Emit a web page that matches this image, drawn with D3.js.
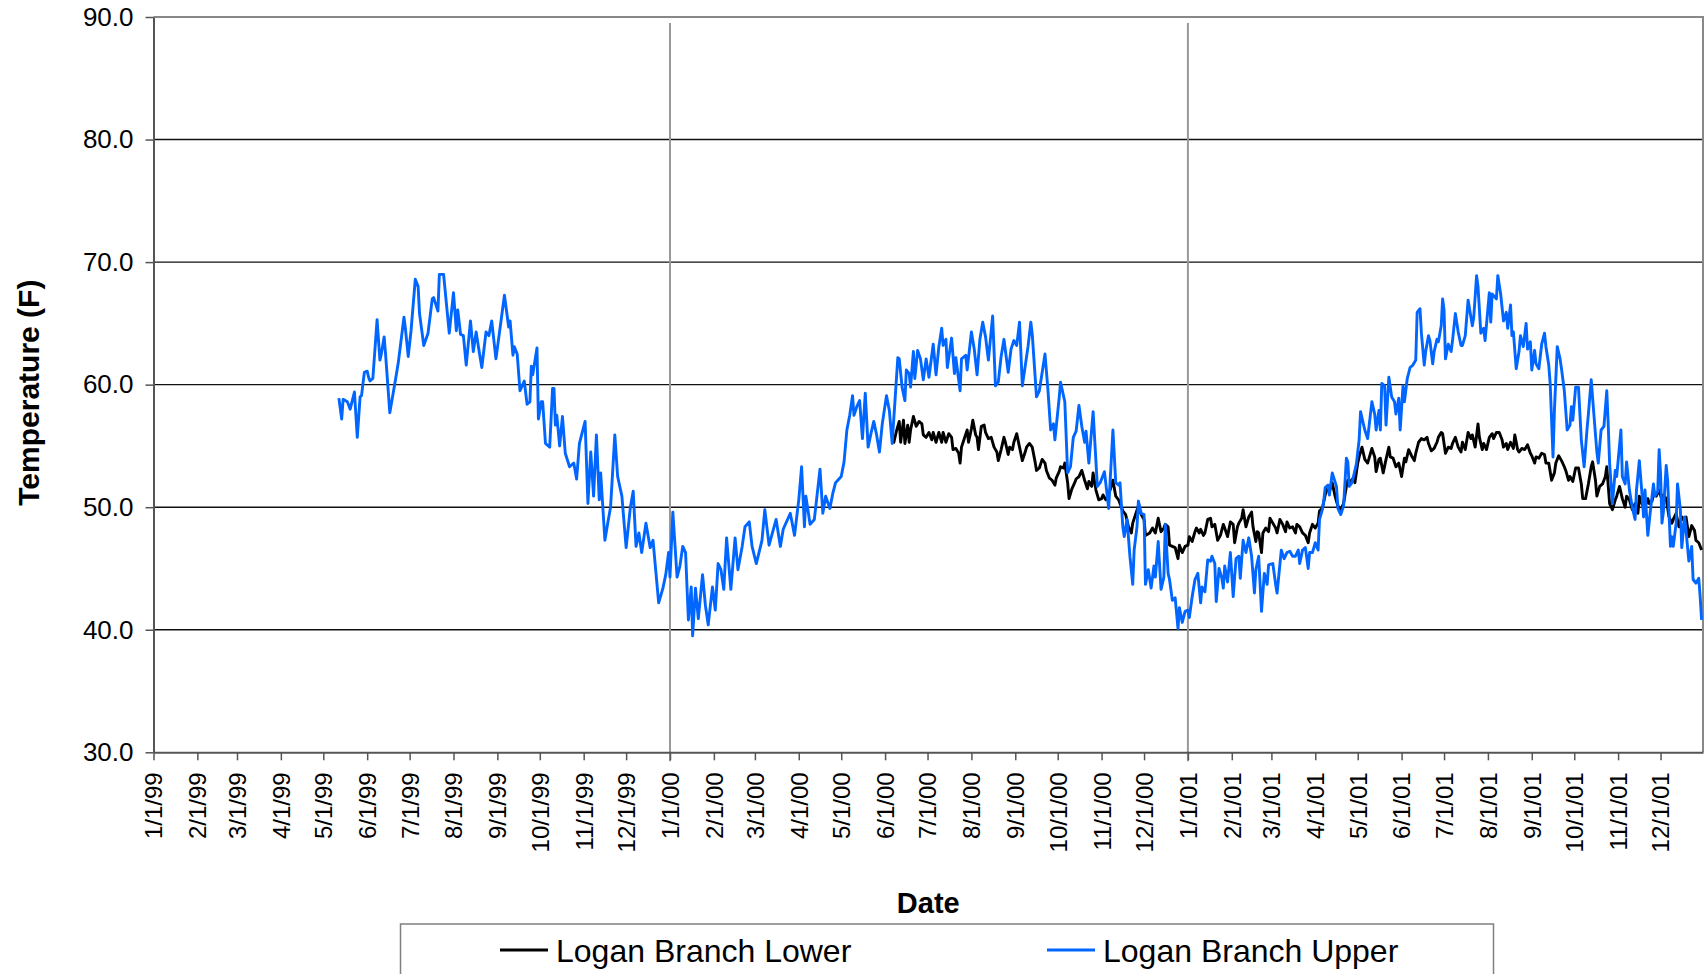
<!DOCTYPE html>
<html>
<head>
  <meta charset="utf-8">
  <style>
    body { margin: 0; background: #fff; }
    svg { display: block; }
    text { font-family: Arial, "Liberation Sans", sans-serif; fill: #000; }
    .line { fill: none; stroke-width: 2.9px; stroke-linejoin: round; }
  </style>
</head>
<body>
  <svg width="1708" height="974"></svg>
  <script src="https://cdn.jsdelivr.net/npm/d3@7"></script>
  <script>

  // readings: [days after 1/1/99, temperature F]
  var day0 = new Date(1999, 0, 1),
      dayEnd = new Date(2001, 11, 31);

  var yTicks = [30, 40, 50, 60, 70, 80, 90];
  var yearLines = [new Date(2000, 0, 1), new Date(2001, 0, 1)];
  var seriesNames = ["Logan Branch Lower", "Logan Branch Upper"];
  var seriesColors = ["#000000", "#0066ff"];

  var upper = [
    [131,58.9],[133,57.2],[134,58.8],[137,58.6],[139,58.0],[142,59.4],[144,55.7],[146,59.0],[147,59.1],[149,61.0],
    [151,61.1],[152,60.6],[153,60.3],[155,60.5],[158,65.3],[160,62.0],[161,62.5],[163,63.9],[164,62.5],[167,57.7],
    [171,60.4],[173,61.8],[177,65.5],[178,64.6],[180,62.3],[182,64.4],[185,68.6],[187,68.0],[188,65.8],[191,63.2],
    [194,64.2],[197,67.0],[198,67.1],[201,66.0],[202,69.0],[205,69.0],[209,64.2],[212,67.5],[214,64.4],[215,66.1],
    [217,64.1],[219,64.0],[221,61.6],[224,65.2],[226,62.7],[228,64.3],[230,62.8],[232,61.4],[235,64.3],[237,64.0],
    [239,65.2],[242,62.1],[248,67.3],[251,64.7],[252,65.2],[254,62.4],[255,63.1],[257,62.5],[259,59.5],[262,60.3],
    [264,58.4],[266,58.6],[267,61.5],[268,60.8],[271,63.0],[272,57.2],[274,58.6],[275,58.6],[277,55.2],[280,54.9],
    [282,59.7],[283,59.7],[284,56.7],[285,57.5],[287,55.0],[289,57.4],[291,54.4],[294,53.3],[297,53.6],[299,52.3],
    [301,55.2],[305,57.0],[307,50.3],[309,54.5],[311,50.9],[313,55.9],[315,50.6],[316,52.8],[319,47.3],[321,48.7],
    [323,50.0],[326,55.9],[328,52.5],[331,50.9],[334,46.7],[337,50.0],[339,51.3],[341,46.8],[343,47.9],[345,46.3],
    [348,48.7],[351,46.7],[353,47.3],[357,42.2],[360,43.4],[362,44.5],[364,46.3],[365,44.3],[367,49.6],[370,44.3],
    [372,45.2],[374,46.8],[376,46.3],[378,40.8],[380,43.5],[381,39.5],[383,43.4],[385,40.9],[388,44.5],[390,42.0],
    [392,40.4],[395,43.5],[397,41.6],[399,45.4],[401,44.9],[403,43.3],[405,47.5],[408,43.3],[411,47.5],[413,44.9],
    [416,46.8],[418,48.4],[421,48.8],[423,46.8],[426,45.4],[430,47.3],[432,49.8],[435,46.9],[440,49.0],[443,46.8],
    [445,48.2],[450,49.5],[453,47.7],[456,50.6],[458,53.3],[460,48.4],[461,50.9],[464,48.6],[467,49.0],[471,53.1],
    [473,49.5],[475,50.9],[478,49.9],[480,51.1],[482,52.0],[486,52.5],[488,53.7],[490,56.3],[492,57.5],[494,59.1],
    [495,57.5],[497,58.2],[499,58.7],[501,55.6],[503,59.3],[505,54.9],[507,56.0],[509,57.0],[511,55.9],[513,54.5],
    [515,56.8],[518,59.1],[520,57.9],[522,55.2],[524,58.7],[526,62.2],[527,62.1],[529,59.8],[531,58.7],[532,61.2],
    [534,60.9],[535,59.8],[537,62.7],[538,60.5],[540,62.8],[542,62.1],[544,60.4],[546,62.1],[548,60.6],[551,63.3],
    [553,60.8],[555,63.1],[557,64.6],[558,63.2],[560,63.7],[561,61.4],[564,63.8],[566,60.9],[567,62.2],[570,59.5],
    [571,62.1],[574,62.4],[575,61.2],[578,64.3],[580,62.9],[582,60.8],[584,63.7],[586,65.1],[588,63.9],[590,62.0],
    [593,65.6],[595,59.9],[597,60.2],[599,62.3],[601,63.7],[604,61.0],[606,62.9],[608,63.6],[610,63.2],[612,65.1],
    [614,59.9],[618,63.1],[620,65.1],[621,64.1],[624,59.0],[626,59.5],[630,62.5],[632,59.7],[634,56.3],[636,56.8],
    [637,55.5],[640,58.9],[641,60.2],[644,58.6],[646,52.8],[648,53.3],[650,55.7],[652,56.2],[654,58.3],[656,56.6],
    [658,55.3],[659,56.2],[661,53.6],[664,57.8],[667,51.7],[669,52.0],[672,52.9],[675,49.9],[678,56.3],[680,52.0],
    [682,51.8],[683,52.0],[685,48.4],[686,47.6],[688,49.0],[690,46.0],[692,43.7],[693,46.5],[695,48.4],[696,50.5],
    [698,49.5],[700,49.4],[701,43.7],[703,44.9],[705,43.4],[707,45.2],[708,44.3],[710,47.2],[712,43.3],[714,44.3],
    [715,48.6],[717,44.6],[718,44.1],[720,42.4],[722,42.6],[724,40.1],[725,41.8],[727,40.6],[729,41.5],[731,41.6],
    [732,41.0],[734,42.7],[736,44.1],[738,44.6],[740,42.2],[741,43.5],[743,43.1],[745,45.7],[747,45.6],[748,46.0],
    [750,45.4],[751,42.3],[753,45.0],[755,44.2],[756,43.4],[757,45.2],[759,43.9],[761,46.3],[763,42.7],[765,45.8],
    [767,46.0],[768,44.2],[770,47.3],[772,46.3],[774,47.5],[776,46.0],[778,43.0],[779,44.9],[781,46.0],[783,41.5],
    [785,44.6],[787,43.7],[788,45.3],[791,45.4],[793,43.7],[794,43.0],[797,46.5],[799,45.8],[801,46.3],[803,46.4],
    [805,46.0],[807,46.0],[809,46.5],[810,45.4],[812,46.5],[814,46.7],[816,45.0],[817,46.3],[819,46.3],[821,47.1],
    [823,46.5],[824,49.0],[826,49.8],[827,50.5],[828,51.6],[830,51.8],[831,51.0],[833,52.8],[836,51.7],[837,49.9],
    [839,49.4],[841,50.1],[843,54.0],[844,53.7],[845,51.7],[847,52.0],[850,53.5],[852,55.5],[853,57.8],[856,56.3],
    [858,55.6],[860,57.6],[861,58.6],[863,57.6],[864,56.3],[866,57.9],[867,56.3],[868,60.1],[870,59.9],[871,56.7],
    [873,60.6],[875,59.0],[877,58.6],[878,57.6],[880,58.9],[881,56.3],[883,59.9],[884,58.6],[886,60.5],[888,61.4],
    [890,61.6],[892,62.0],[893,65.9],[895,66.2],[896,64.2],[898,61.6],[899,62.7],[901,64.0],[902,63.6],[904,61.7],
    [905,62.7],[907,63.7],[908,63.5],[910,64.8],[911,67.0],[912,66.1],[913,62.1],[915,63.3],[917,62.7],[918,63.6],
    [920,65.8],[922,64.3],[924,63.2],[925,63.2],[927,64.0],[929,66.9],[930,66.2],[932,64.8],[933,65.5],[935,68.9],
    [936,68.0],[938,64.2],[940,64.6],[941,63.6],[943,66.2],[944,67.5],[945,65.1],[946,67.4],[949,67.0],[950,68.9],
    [952,67.4],[954,65.2],[956,65.9],[957,64.6],[959,66.5],[960,64.0],[961,64.3],[963,61.3],[965,62.7],[966,64.0],
    [968,63.1],[970,65.0],[971,62.9],[973,63.5],[974,61.2],[976,62.8],[977,61.7],[979,61.3],[981,63.3],[983,64.2],
    [984,63.1],[986,61.6],[987,60.1],[989,54.1],[990,57.9],[992,63.1],[994,62.1],[995,61.3],[997,59.5],[999,56.3],
    [1001,56.7],[1002,58.2],[1003,57.1],[1005,59.8],[1007,59.8],[1009,55.5],[1011,53.3],[1013,56.3],[1014,57.6],[1016,60.4],
    [1018,57.4],[1020,54.5],[1021,53.6],[1023,56.3],[1025,56.6],[1027,59.5],[1028,56.8],[1029,53.6],[1031,50.3],[1033,53.0],
    [1034,52.5],[1037,56.3],[1038,52.5],[1040,51.9],[1041,53.7],[1043,51.4],[1045,50.0],[1047,49.0],[1048,51.4],[1050,53.8],
    [1052,50.9],[1053,49.2],[1054,51.4],[1056,47.7],[1058,49.9],[1060,51.9],[1061,50.9],[1063,51.3],[1064,54.7],[1065,52.8],
    [1066,48.7],[1067,49.6],[1069,53.4],[1070,52.2],[1072,46.8],[1073,47.6],[1074,46.8],[1076,48.7],[1077,51.9],[1079,49.8],
    [1080,46.7],[1082,49.2],[1083,48.1],[1085,45.6],[1087,46.8],[1088,44.1],[1090,43.8],[1092,44.2],[1093,42.7],[1094,40.8]
  ];

  var lower = [
    [523,55.2],[525,56.2],[527,57.0],[528,55.3],[530,57.1],[531,55.2],[533,56.7],[534,55.3],[535,56.3],[537,57.4],
    [539,56.6],[541,57.0],[543,56.8],[544,55.9],[546,55.7],[548,56.1],[550,55.5],[551,56.1],[553,55.3],[555,56.1],
    [557,55.3],[558,56.1],[560,55.3],[562,56.0],[564,55.7],[565,54.7],[567,54.8],[569,54.4],[570,53.6],[571,54.9],
    [573,55.6],[575,56.3],[576,55.3],[578,56.4],[579,57.1],[581,55.9],[582,55.7],[583,54.7],[585,56.6],[587,56.7],
    [588,56.1],[590,55.6],[592,55.7],[594,54.9],[596,54.5],[597,53.8],[599,54.7],[601,55.7],[602,55.3],[604,54.3],
    [605,54.9],[607,54.7],[608,55.3],[610,56.0],[612,54.9],[614,53.8],[616,54.5],[617,54.9],[619,55.2],[621,54.9],
    [623,53.7],[624,53.0],[626,53.2],[628,53.9],[630,53.6],[631,53.0],[633,52.4],[635,52.2],[637,51.8],[638,52.4],
    [640,52.9],[641,53.3],[643,53.2],[644,53.6],[646,52.0],[647,50.7],[649,51.5],[651,52.0],[652,52.3],[654,52.5],
    [656,53.0],[658,52.2],[660,51.5],[661,52.1],[663,51.7],[664,52.8],[666,51.4],[668,50.6],[670,50.7],[671,51.0],
    [673,50.6],[674,50.7],[676,51.4],[678,52.2],[680,50.9],[682,50.6],[685,49.7],[687,49.4],[689,48.4],[691,47.9],
    [692,48.7],[694,49.4],[696,50.1],[698,49.4],[700,49.0],[701,47.7],[704,47.9],[706,48.3],[708,47.9],[710,49.1],
    [712,48.0],[714,48.3],[715,48.6],[717,48.4],[718,46.9],[720,46.8],[722,46.7],[724,45.8],[725,46.9],[727,46.3],
    [729,46.8],[731,46.9],[732,47.6],[734,47.2],[736,48.0],[737,48.3],[739,47.9],[740,48.2],[742,47.7],[743,47.9],
    [745,49.0],[747,49.1],[748,48.4],[750,48.6],[752,47.3],[754,47.7],[756,48.6],[757,48.3],[759,47.6],[761,48.8],
    [763,48.6],[764,47.1],[766,48.4],[767,48.7],[769,49.1],[770,49.8],[772,48.4],[774,49.2],[776,49.6],[777,48.4],
    [779,47.2],[780,48.0],[781,47.9],[783,46.3],[784,47.9],[786,48.3],[788,48.0],[789,49.1],[791,48.7],[793,48.3],
    [794,47.9],[796,49.0],[798,48.6],[800,48.0],[801,48.8],[803,48.3],[805,48.4],[807,47.9],[808,48.6],[810,48.4],
    [812,47.9],[814,47.7],[816,47.1],[817,47.9],[819,48.6],[821,48.3],[823,48.7],[824,49.7],[826,49.9],[828,51.0],
    [830,51.7],[831,51.3],[833,52.0],[835,50.9],[837,50.1],[839,49.8],[841,50.3],[843,51.7],[844,52.2],[846,52.1],
    [848,52.4],[849,52.0],[851,53.6],[852,54.1],[854,54.9],[856,53.9],[858,53.6],[860,54.4],[861,54.8],[863,54.1],
    [864,52.9],[866,53.9],[867,54.0],[869,52.8],[871,53.9],[873,54.9],[874,54.1],[876,54.0],[878,53.3],[880,53.6],
    [882,52.5],[884,54.0],[885,53.7],[887,54.7],[889,54.2],[891,53.8],[892,54.4],[894,55.3],[896,55.6],[898,55.5],
    [900,55.7],[901,55.2],[903,54.6],[905,54.8],[907,55.3],[908,55.7],[910,56.1],[911,56.0],[913,54.4],[915,54.9],
    [917,54.8],[918,55.2],[920,55.7],[922,54.9],[924,54.5],[925,55.3],[927,54.7],[929,56.1],[931,55.6],[932,55.9],
    [934,54.9],[936,56.8],[937,55.7],[939,54.7],[940,55.2],[942,54.7],[944,55.7],[946,56.0],[947,55.6],[949,56.1],
    [951,56.1],[953,55.5],[954,54.9],[956,55.2],[957,54.7],[959,55.3],[961,54.8],[962,55.9],[964,54.7],[965,54.5],
    [967,54.8],[969,54.7],[971,55.1],[973,54.4],[974,54.2],[976,53.6],[977,54.1],[979,54.0],[981,54.4],[983,54.3],
    [984,53.6],[986,53.6],[988,52.2],[990,52.8],[991,53.6],[993,54.2],[995,53.8],[997,53.3],[998,53.0],[1000,52.2],
    [1001,52.5],[1003,52.1],[1005,53.2],[1007,53.2],[1009,51.9],[1010,50.7],[1012,50.7],[1014,51.9],[1016,53.3],[1017,53.7],
    [1019,52.2],[1020,50.9],[1022,51.7],[1024,51.9],[1026,52.5],[1027,53.3],[1029,50.3],[1031,49.8],[1033,50.6],[1034,50.9],
    [1036,51.7],[1038,50.7],[1040,50.0],[1041,50.9],[1043,50.6],[1045,49.8],[1047,50.3],[1049,49.5],[1050,50.9],[1052,50.2],
    [1054,50.0],[1056,50.7],[1057,50.3],[1059,50.5],[1060,51.1],[1062,50.9],[1064,51.4],[1066,50.6],[1067,51.0],[1069,50.7],
    [1071,49.2],[1073,48.7],[1074,49.0],[1076,49.5],[1078,48.4],[1080,49.2],[1081,49.0],[1083,49.2],[1085,47.6],[1087,48.5],
    [1089,48.1],[1090,47.3],[1092,47.1],[1094,46.5]
  ];

  var svg = d3.select("svg"),
      margin = {top: 17, right: 5, bottom: 221.7, left: 153.5},
      width = +svg.attr("width") - margin.left - margin.right,
      height = +svg.attr("height") - margin.top - margin.bottom,
      g = svg.append("g").attr("transform", "translate(" + margin.left + "," + margin.top + ")");

  var x = d3.scaleTime().domain([day0, dayEnd]).range([0, width]),
      y = d3.scaleLinear().domain([30, 90]).range([height, 0]);

  var toDate = function(n) { return d3.timeDay.offset(day0, n); };

  var line = d3.line()
    .x(function(d) { return x(toDate(d[0])); })
    .y(function(d) { return y(d[1]); });

  // horizontal gridlines
  g.selectAll(".grid")
    .data(yTicks.slice(1, -1))
    .enter().append("line")
      .attr("x1", 0).attr("x2", width)
      .attr("y1", function(d) { return y(d); })
      .attr("y2", function(d) { return y(d); })
      .attr("stroke", "#111")
      .attr("stroke-width", 1.4);

  // year lines
  g.selectAll(".yearline")
    .data(yearLines)
    .enter().append("line")
      .attr("x1", function(d) { return x(d); })
      .attr("x2", function(d) { return x(d); })
      .attr("y1", 6)
      .attr("y2", height + 9)
      .attr("stroke", "#999")
      .attr("stroke-width", 2);

  // plot border top / right
  g.append("path")
    .attr("d", "M0,0H" + width + "V" + height)
    .attr("fill", "none")
    .attr("stroke", "#888")
    .attr("stroke-width", 2);

  // y axis
  var yAxis = g.append("g")
    .call(d3.axisLeft(y).tickValues(yTicks).tickFormat(d3.format(".1f")).tickSize(8).tickSizeOuter(0).tickPadding(12));
  yAxis.select(".domain").attr("stroke", "#555").attr("stroke-width", 2);
  yAxis.selectAll(".tick line").attr("stroke", "#555").attr("stroke-width", 1.5);
  yAxis.selectAll(".tick text")
    .style("font-size", "26px")
    .attr("fill", "#000");

  // x axis
  var xAxis = g.append("g")
    .attr("transform", "translate(0," + height + ")")
    .call(d3.axisBottom(x).ticks(d3.timeMonth.every(1)).tickFormat(d3.timeFormat("%-m/%-d/%y")).tickSize(8).tickSizeOuter(0));
  xAxis.select(".domain").attr("stroke", "#555").attr("stroke-width", 2);
  xAxis.selectAll(".tick line").attr("stroke", "#555").attr("stroke-width", 1.5);
  xAxis.selectAll(".tick text")
    .style("font-size", "24px")
    .attr("fill", "#000")
    .attr("text-anchor", "end")
    .attr("transform", "rotate(-90)")
    .attr("x", -20)
    .attr("y", 0)
    .attr("dy", "0.35em");

  // series
  g.append("path")
    .datum(lower)
    .attr("class", "line")
    .attr("stroke", seriesColors[0])
    .attr("d", line);

  g.append("path")
    .datum(upper)
    .attr("class", "line")
    .attr("stroke", seriesColors[1])
    .attr("d", line);

  // axis titles
  svg.append("text")
    .attr("transform", "translate(39," + (margin.top + height / 2 + 8) + ") rotate(-90)")
    .attr("text-anchor", "middle")
    .style("font-size", "30px")
    .style("font-weight", "bold")
    .text("Temperature (F)");

  svg.append("text")
    .attr("x", margin.left + width / 2)
    .attr("y", 913)
    .attr("text-anchor", "middle")
    .style("font-size", "29px")
    .style("font-weight", "bold")
    .text("Date");

  // legend
  svg.append("rect")
    .attr("x", 400.5).attr("y", 924)
    .attr("width", 1093).attr("height", 70)
    .attr("fill", "#fff")
    .attr("stroke", "#808080")
    .attr("stroke-width", 1.5);

  var legendX = [500, 1047];
  var item = svg.selectAll(".legend")
    .data(seriesNames)
    .enter().append("g")
      .attr("transform", function(d, i) { return "translate(" + legendX[i] + ",950)"; });

  item.append("line")
    .attr("x1", 0).attr("x2", 48)
    .attr("stroke", function(d, i) { return seriesColors[i]; })
    .attr("stroke-width", 2.8);

  item.append("text")
    .attr("x", 56)
    .attr("dy", "0.36em")
    .style("font-size", "32px")
    .text(function(d) { return d; });

  </script>
</body>
</html>
